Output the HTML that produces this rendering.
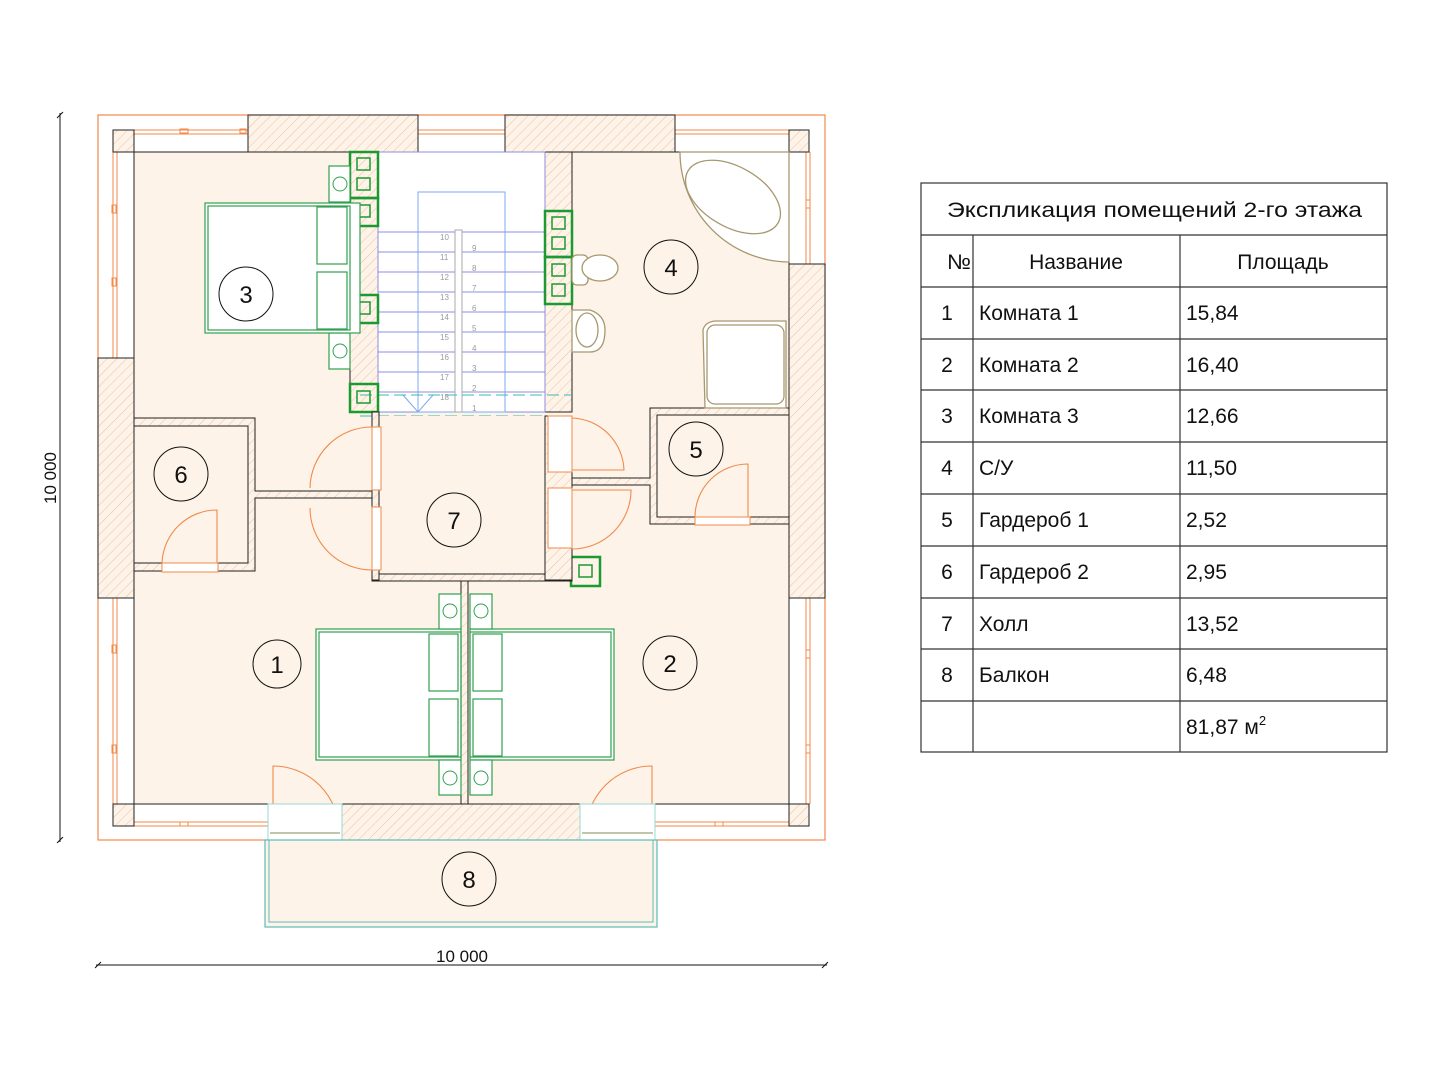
<!DOCTYPE html>
<html><head><meta charset="utf-8"><style>
html,body{margin:0;padding:0;background:#fff;}
svg{display:block;}
text{font-family:"Liberation Sans","DejaVu Sans",sans-serif;}
</style></head><body>
<svg width="1440" height="1080" viewBox="0 0 1440 1080" xmlns="http://www.w3.org/2000/svg">
<defs>
<pattern id="h" patternUnits="userSpaceOnUse" width="7" height="7" patternTransform="rotate(45)">
<rect width="7" height="7" fill="#fdf3e8"/><line x1="0" y1="0" x2="0" y2="7" stroke="#f0bfa0" stroke-width="1"/>
</pattern>
</defs>
<!-- outer -->
<rect x="98" y="115" width="727" height="725" fill="#fff" stroke="#f08a4a" stroke-width="1.2"/>
<!-- floor -->
<rect x="134" y="152" width="655" height="652" fill="#fdf3e8" stroke="#222" stroke-width="1"/>
<!-- window lines -->
<g stroke="#f08a4a" stroke-width="1" fill="none">
<line x1="134" y1="130" x2="248" y2="130"/><line x1="134" y1="134" x2="248" y2="134"/>
<line x1="418" y1="130" x2="505" y2="130"/><line x1="418" y1="134" x2="505" y2="134"/>
<line x1="675" y1="130" x2="789" y2="130"/><line x1="675" y1="134" x2="789" y2="134"/>
<line x1="113" y1="152" x2="113" y2="358"/><line x1="117" y1="152" x2="117" y2="358"/>
<line x1="113" y1="598" x2="113" y2="804"/><line x1="117" y1="598" x2="117" y2="804"/>
<line x1="806" y1="152" x2="806" y2="264"/><line x1="810" y1="152" x2="810" y2="264"/>
<line x1="806" y1="598" x2="806" y2="804"/><line x1="810" y1="598" x2="810" y2="804"/>
<line x1="134" y1="822" x2="268" y2="822"/><line x1="134" y1="826" x2="268" y2="826"/>
<line x1="655" y1="822" x2="789" y2="822"/><line x1="655" y1="826" x2="789" y2="826"/>
<rect x="180" y="129" width="8" height="4"/><rect x="240" y="129" width="6" height="4"/>
<rect x="112" y="205" width="4" height="8"/><rect x="112" y="278" width="4" height="8"/>
<rect x="112" y="645" width="4" height="8"/><rect x="112" y="745" width="4" height="8"/>
<rect x="806" y="200" width="4" height="8"/><rect x="806" y="650" width="4" height="8"/><rect x="806" y="745" width="4" height="8"/>
<rect x="180" y="822" width="8" height="4"/><rect x="715" y="822" width="8" height="4"/>
</g>
<!-- corner squares -->
<g fill="url(#h)" stroke="#222" stroke-width="1">
<rect x="113" y="130" width="21" height="22"/><rect x="789" y="130" width="20" height="22"/>
<rect x="113" y="804" width="21" height="22"/><rect x="789" y="804" width="20" height="22"/>
<!-- walls -->
<rect x="248" y="115" width="170" height="37"/><rect x="505" y="115" width="170" height="37"/>
<rect x="98" y="358" width="36" height="240"/><rect x="789" y="264" width="36" height="334"/>
<rect x="342" y="804" width="238" height="36"/>
<rect x="350" y="152" width="28" height="260"/><rect x="545" y="152" width="27" height="260"/>
</g>
<!-- bathroom floor etc -->
<rect x="378" y="152" width="167" height="260" fill="#fff" stroke="#8c8ce0" stroke-width="1"/>
<g stroke="#8c8ce0" stroke-width="1">
<line x1="378" y1="232" x2="545" y2="232"/><line x1="378" y1="252" x2="545" y2="252"/>
<line x1="378" y1="272" x2="545" y2="272"/><line x1="378" y1="292" x2="545" y2="292"/>
<line x1="378" y1="312" x2="545" y2="312"/><line x1="378" y1="332" x2="545" y2="332"/>
<line x1="378" y1="352" x2="545" y2="352"/><line x1="378" y1="372" x2="545" y2="372"/>
<line x1="378" y1="392" x2="545" y2="392"/>
</g>
<rect x="418" y="192" width="87" height="220" fill="none" stroke="#7fa8f0" stroke-width="1"/>
<rect x="455" y="230" width="7" height="182" fill="#fff" stroke="#aaa" stroke-width="1"/>
<polyline points="403,395 418,412 433,395" fill="none" stroke="#7fa8f0"/>
<line x1="360" y1="395" x2="572" y2="395" stroke="#3cb8b0" stroke-dasharray="12,5"/>
<line x1="360" y1="416" x2="572" y2="416" stroke="#3cb8b0" stroke-dasharray="12,5"/>
<g font-size="8" fill="#999">
<text x="472" y="251">9</text><text x="472" y="271">8</text><text x="472" y="291">7</text><text x="472" y="311">6</text><text x="472" y="331">5</text><text x="472" y="351">4</text><text x="472" y="371">3</text><text x="472" y="391">2</text><text x="472" y="411">1</text>
<text x="440" y="240">10</text><text x="440" y="260">11</text><text x="440" y="280">12</text><text x="440" y="300">13</text><text x="440" y="320">14</text><text x="440" y="340">15</text><text x="440" y="360">16</text><text x="440" y="380">17</text><text x="440" y="400">18</text>
</g>
<!-- green vent boxes -->
<g fill="none" stroke="#1a9a30" stroke-width="2.5">
<rect x="350" y="152" width="28" height="46"/><rect x="350" y="198" width="28" height="28"/>
<rect x="350" y="295" width="28" height="28"/><rect x="350" y="384" width="28" height="28"/>
<rect x="545" y="211" width="27" height="46"/><rect x="545" y="257" width="27" height="47"/>
<rect x="571" y="557" width="29" height="29"/>
</g>
<g fill="none" stroke="#1a9a30" stroke-width="1.5">
<rect x="357" y="158" width="13" height="12"/><rect x="357" y="178" width="13" height="12"/><rect x="357" y="205" width="13" height="12"/>
<rect x="357" y="302" width="13" height="12"/><rect x="357" y="391" width="13" height="12"/>
<rect x="552" y="217" width="13" height="12"/><rect x="552" y="237" width="13" height="12"/><rect x="552" y="264" width="13" height="12"/><rect x="552" y="284" width="13" height="12"/>
<rect x="579" y="565" width="13" height="12"/>
</g>
<!-- hall 7 walls -->
<rect x="378" y="416" width="167" height="158" fill="#fdf3e8"/>
<g fill="url(#h)" stroke="#222" stroke-width="1">
<rect x="372" y="574" width="200" height="7"/>
<rect x="545" y="416" width="27" height="164"/>
<rect x="461" y="581" width="7" height="223"/>
<rect x="372" y="412" width="7" height="168"/>
<!-- closet 6 -->
<path d="M134 418 H255 V491 H372 V498 H255 V571 H134 V563 H248 V426 H134 Z"/>
<!-- closet 5 -->
<path d="M572 478 H650 V408 H789 V415 H657 V517 H789 V524 H650 V485 H572 Z"/>
</g>
<rect x="548" y="416" width="24" height="56" fill="#fff" stroke="#f08a4a"/>
<rect x="548" y="488" width="24" height="60" fill="#fff" stroke="#f08a4a"/>
<rect x="372" y="427" width="9" height="63" fill="#fff" stroke="#f08a4a"/>
<rect x="372" y="507" width="9" height="63" fill="#fff" stroke="#f08a4a"/>
<rect x="162" y="563" width="56" height="9" fill="#fff" stroke="#f08a4a"/>
<rect x="695" y="517" width="55" height="8" fill="#fff" stroke="#f08a4a"/>
<!-- door arcs -->
<g fill="none" stroke="#f08a4a" stroke-width="1.1">
<path d="M310 488 A62 62 0 0 1 372 427"/><path d="M310 508 A62 62 0 0 0 372 570"/>
<path d="M572 470 H624 A54 54 0 0 0 572 418"/>
<path d="M572 490 H631 A59 59 0 0 1 572 549"/>
<path d="M162 563 A55 55 0 0 1 217 510 V563"/>
<path d="M695 517 A53 53 0 0 1 748 464 V517"/>
<path d="M273 804 V766 A66 66 0 0 1 339 832"/>
<path d="M652 804 V766 A66 66 0 0 0 586 832"/>
</g>
<!-- bottom door openings -->
<rect x="268" y="804" width="74" height="36" fill="#fff" stroke="#9ad8d4"/>
<rect x="580" y="804" width="75" height="36" fill="#fff" stroke="#9ad8d4"/>
<line x1="270" y1="833" x2="340" y2="833" stroke="#8a8a50"/><line x1="582" y1="833" x2="653" y2="833" stroke="#8a8a50"/>
<!-- balcony -->
<rect x="265" y="840" width="392" height="87" fill="#fdf3e8" stroke="#5cbcb8" stroke-width="1.2"/>
<rect x="269" y="840" width="384" height="82" fill="none" stroke="#5cbcb8" stroke-width="1"/>
<!-- bathroom fixtures -->
<g fill="#fff" stroke="#a89870" stroke-width="1.3">
<path d="M680 152 H789 V262 A110 110 0 0 1 680 152 Z"/>
<ellipse cx="733" cy="197" rx="52" ry="30" transform="rotate(30 733 197)"/>
<path d="M703 330 Q705 322 715 321 H786 V408 H705 Z"/>
<rect x="707" y="325" width="77" height="79" rx="8"/>
<rect x="572" y="255" width="16" height="30" rx="5"/>
<ellipse cx="600" cy="268" rx="18" ry="13"/>
<path d="M572 310 H590 Q605 315 605 330 Q605 352 590 352 H572 Z"/>
<ellipse cx="587" cy="330" rx="11" ry="17"/>
</g>
<!-- beds -->
<g fill="#fff" stroke="#30a050" stroke-width="1.2">
<rect x="329" y="166" width="21" height="36"/><rect x="329" y="333" width="21" height="36"/>
<rect x="205" y="203" width="155" height="130"/><rect x="208" y="206" width="142" height="124" fill="none"/>
<rect x="317" y="207" width="30" height="57"/><rect x="317" y="272" width="30" height="57"/>
<rect x="316" y="629" width="145" height="131"/><rect x="319" y="632" width="142" height="125" fill="none"/>
<rect x="429" y="634" width="29" height="57"/><rect x="429" y="699" width="29" height="57"/>
<rect x="470" y="629" width="144" height="131"/><rect x="470" y="632" width="141" height="125" fill="none"/>
<rect x="473" y="634" width="29" height="57"/><rect x="473" y="699" width="29" height="57"/>
<rect x="439" y="594" width="22" height="35"/><rect x="470" y="594" width="22" height="35"/>
<rect x="439" y="760" width="22" height="35"/><rect x="470" y="760" width="22" height="35"/>
</g>
<g fill="none" stroke="#30a050" stroke-width="1">
<circle cx="340" cy="184" r="7"/><circle cx="340" cy="351" r="7"/>
<circle cx="450" cy="611" r="7"/><circle cx="481" cy="611" r="7"/>
<circle cx="450" cy="778" r="7"/><circle cx="481" cy="778" r="7"/>
</g>
<!-- room circles -->
<g fill="none" stroke="#111" stroke-width="1">
<circle cx="246" cy="294" r="27"/><circle cx="671" cy="267" r="27"/><circle cx="696" cy="449" r="27"/>
<circle cx="181" cy="474" r="27"/><circle cx="454" cy="520" r="27"/><circle cx="277" cy="664" r="24"/>
<circle cx="670" cy="663" r="27"/><circle cx="469" cy="879" r="27"/>
</g>
<g font-size="24" fill="#111" text-anchor="middle">
<text x="246" y="303">3</text><text x="671" y="276">4</text><text x="696" y="458">5</text>
<text x="181" y="483">6</text><text x="454" y="529">7</text><text x="277" y="673">1</text>
<text x="670" y="672">2</text><text x="469" y="888">8</text>
</g>
<!-- dimensions -->
<g stroke="#111" stroke-width="1">
<line x1="60" y1="113" x2="60" y2="842"/><line x1="57" y1="118" x2="63" y2="112"/><line x1="57" y1="843" x2="63" y2="837"/>
<line x1="96" y1="965" x2="827" y2="965"/><line x1="95" y1="968" x2="101" y2="962"/><line x1="822" y1="968" x2="828" y2="962"/>
</g>
<text x="462" y="962" font-size="17" text-anchor="middle" fill="#111">10 000</text>
<text transform="translate(56,478) rotate(-90)" font-size="17" text-anchor="middle" fill="#111">10 000</text>
<!-- table -->
<g stroke="#333" stroke-width="1.2" fill="none">
<rect x="921" y="183" width="466" height="569"/>
<line x1="921" y1="235" x2="1387" y2="235"/><line x1="921" y1="287" x2="1387" y2="287"/>
<line x1="921" y1="339" x2="1387" y2="339"/><line x1="921" y1="390" x2="1387" y2="390"/>
<line x1="921" y1="442" x2="1387" y2="442"/><line x1="921" y1="494" x2="1387" y2="494"/>
<line x1="921" y1="546" x2="1387" y2="546"/><line x1="921" y1="598" x2="1387" y2="598"/>
<line x1="921" y1="649" x2="1387" y2="649"/><line x1="921" y1="701" x2="1387" y2="701"/>
<line x1="973" y1="235" x2="973" y2="752"/><line x1="1180" y1="235" x2="1180" y2="752"/>
</g>
<g font-size="21" fill="#111">
<text x="947" y="217" textLength="415" lengthAdjust="spacingAndGlyphs">Экспликация помещений 2-го этажа</text>
<text x="947" y="269" textLength="24" lengthAdjust="spacingAndGlyphs">№</text>
<text x="1076" y="269" text-anchor="middle">Название</text>
<text x="1283" y="269" text-anchor="middle">Площадь</text>
<g text-anchor="middle">
<text x="947" y="320">1</text><text x="947" y="372">2</text><text x="947" y="423">3</text><text x="947" y="475">4</text>
<text x="947" y="527">5</text><text x="947" y="579">6</text><text x="947" y="631">7</text><text x="947" y="682">8</text>
</g>
<text x="979" y="320">Комната 1</text><text x="979" y="372">Комната 2</text><text x="979" y="423">Комната 3</text>
<text x="979" y="475">С/У</text><text x="979" y="527">Гардероб 1</text><text x="979" y="579">Гардероб 2</text>
<text x="979" y="631">Холл</text><text x="979" y="682">Балкон</text>
<text x="1186" y="320">15,84</text><text x="1186" y="372">16,40</text><text x="1186" y="423">12,66</text>
<text x="1186" y="475">11,50</text><text x="1186" y="527">2,52</text><text x="1186" y="579">2,95</text>
<text x="1186" y="631">13,52</text><text x="1186" y="682">6,48</text>
<text x="1186" y="734">81,87 м<tspan font-size="13" dy="-9">2</tspan></text>
</g>
</svg>
</body></html>
